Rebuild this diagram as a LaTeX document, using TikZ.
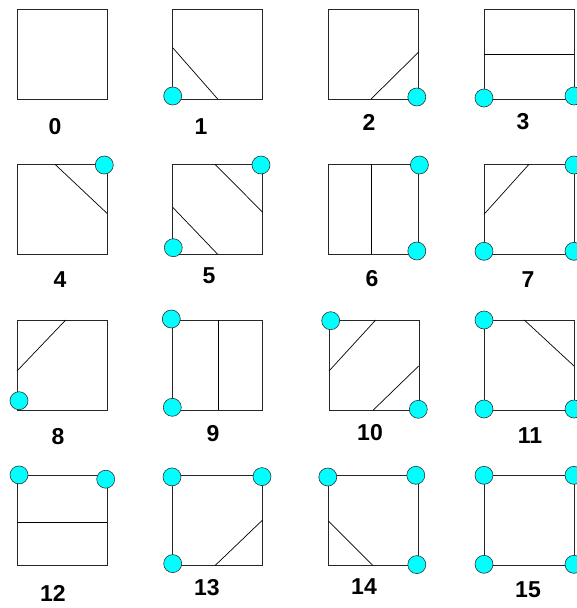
\documentclass[tikz,border=0pt]{standalone}
\usepackage{fontspec}
\setmainfont{Liberation Sans}
\usetikzlibrary{positioning}
\definecolor{vtxfill}{RGB}{0,255,255}

\begin{document}
\begin{tikzpicture}[
  x=1pt, y=-1pt,
  cell/.style={draw=black!85, line width=0.9pt},
  iso/.style={draw=black, line width=0.7pt},
  vtx/.style={circle, draw=black!80, fill=vtxfill, line width=0.6pt,
    minimum size=18pt, inner sep=0pt},
  num/.style={font=\fontsize{23}{23}\selectfont\bfseries, inner sep=0pt}
]
\useasboundingbox (0,0) rectangle (576,608);

% Row 1
\begin{scope}[shift={(17,9)}]
  \draw[cell] (0,0) rectangle (90,90);
\end{scope}
\begin{scope}[shift={(172.7,9)}]
  \draw[cell] (0,0) rectangle (90,90);
  \draw[iso] (0,38.7) -- (45,90);
  \node[vtx] (v1a) at (0,87) {};
\end{scope}
\begin{scope}[shift={(328.4,9)}]
  \draw[cell] (0,0) rectangle (90,90);
  \draw[iso] (42.7,90) -- (90,43.3);
  \node[vtx] (v2a) at (88.4,88) {};
\end{scope}
\begin{scope}[shift={(484,9)}]
  \draw[cell] (0,0) rectangle (90,90);
  \draw[iso] (0,45) -- (90,45);
  \node[vtx] (v3a) at (0,89) {};
  \node[vtx] (v3b) at (90,87) {};
\end{scope}

% Row 2
\begin{scope}[shift={(17,164.3)}]
  \draw[cell] (0,0) rectangle (90,90);
  \draw[iso] (38,0) -- (90,49);
  \node[vtx] (v4a) at (87.3,0.7) {};
\end{scope}
\begin{scope}[shift={(172.7,164.3)}]
  \draw[cell] (0,0) rectangle (90,90);
  \draw[iso] (42.3,0) -- (90,48);
  \draw[iso] (0,43) -- (45,90);
  \node[vtx] (v5a) at (0.6,83.4) {};
  \node[vtx] (v5b) at (88.3,0.7) {};
\end{scope}
\begin{scope}[shift={(328.4,164.3)}]
  \draw[cell] (0,0) rectangle (90,90);
  \draw[iso] (43.4,0) -- (43.4,90);
  \node[vtx] (v6a) at (91,0.7) {};
  \node[vtx] (v6b) at (88.4,86.7) {};
\end{scope}
\begin{scope}[shift={(484,164.3)}]
  \draw[cell] (0,0) rectangle (90,90);
  \draw[iso] (0,50) -- (45,0);
  \node[vtx] (v7a) at (0,87) {};
  \node[vtx] (v7b) at (90,87) {};
  \node[vtx] (v7c) at (90,0.7) {};
\end{scope}

% Row 3
\begin{scope}[shift={(17,320)}]
  \draw[cell] (0,0) rectangle (90,90);
  \draw[iso] (0,51) -- (48.7,0);
  \node[vtx] (v8a) at (2,80.7) {};
\end{scope}
\begin{scope}[shift={(172.7,320)}]
  \draw[cell] (0,0) rectangle (90,90);
  \draw[iso] (45.6,0) -- (45.6,90);
  \node[vtx] (v9a) at (-1.4,-1) {};
  \node[vtx] (v9b) at (-0.4,87.3) {};
\end{scope}
\begin{scope}[shift={(329,320)}]
  \draw[cell] (0,0) rectangle (90,90);
  \draw[iso] (0,51) -- (46.7,0);
  \draw[iso] (44.3,90) -- (89.7,46);
  \node[vtx] (v10a) at (1.7,0.7) {};
  \node[vtx] (v10b) at (89.3,89.3) {};
\end{scope}
\begin{scope}[shift={(484,320)}]
  \draw[cell] (0,0) rectangle (90,90);
  \draw[iso] (40.3,0) -- (90,46);
  \node[vtx] (v11a) at (0,0) {};
  \node[vtx] (v11b) at (0,89) {};
  \node[vtx] (v11c) at (90,89) {};
\end{scope}

% Row 4
\begin{scope}[shift={(17,475.6)}]
  \draw[cell] (0,0) rectangle (90,90);
  \draw[iso] (0,46.6) -- (90,46.6);
  \node[vtx] (v12a) at (2,-0.7) {};
  \node[vtx] (v12b) at (88.7,3.6) {};
\end{scope}
\begin{scope}[shift={(172.7,475.6)}]
  \draw[cell] (0,0) rectangle (90,90);
  \draw[iso] (42.3,90) -- (90,44.3);
  \node[vtx] (v13a) at (-0.7,1.3) {};
  \node[vtx] (v13b) at (0,88) {};
  \node[vtx] (v13c) at (89.3,1) {};
\end{scope}
\begin{scope}[shift={(328.4,475.3)}]
  \draw[cell] (0,0) rectangle (90,90);
  \draw[iso] (0,45.7) -- (44.4,90);
  \node[vtx] (v14a) at (-0.6,1.7) {};
  \node[vtx] (v14b) at (87.4,0) {};
  \node[vtx] (v14c) at (88.4,89.3) {};
\end{scope}
\begin{scope}[shift={(484,475.3)}]
  \draw[cell] (0,0) rectangle (90,90);
  \node[vtx] (v15a) at (0,0) {};
  \node[vtx] (v15b) at (90,0) {};
  \node[vtx] (v15c) at (0,89) {};
  \node[vtx] (v15d) at (90,89) {};
\end{scope}

% Case numbers
\node[num] (n0) at (55,127) {0};
\node[num] (n1) at (201,127) {1};
\node[num] (n2) at (369,122) {2};
\node[num] (n3) at (523,122) {3};
\node[num] (n4) at (60,280) {4};
\node[num] (n5) at (209,276) {5};
\node[num] (n6) at (372,279) {6};
\node[num] (n7) at (528,280) {7};
\node[num] (n8) at (58,437) {8};
\node[num] (n9) at (213,434) {9};
\node[num] (n10) at (370,433) {10};
\node[num] (n11) at (530,436) {11};
\node[num] (n12) at (53,593) {12};
\node[num] (n13) at (207,588) {13};
\node[num] (n14) at (364,587) {14};
\node[num] (n15) at (528,590) {15};

\end{tikzpicture}
\end{document}
